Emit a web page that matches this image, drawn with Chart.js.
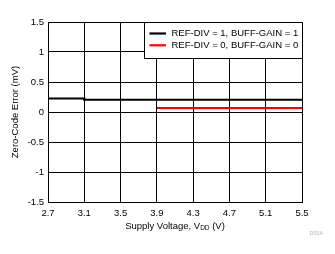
<!DOCTYPE html>
<html><head><meta charset="utf-8">
<script src="https://cdn.jsdelivr.net/npm/chart.js@4/dist/chart.umd.min.js"></script>
<style>html,body{margin:0;padding:0;background:#fff}canvas{display:block}</style>
</head><body>
<canvas id="c" width="335" height="254"></canvas>
<script>
// Data
const vddBlack = [2.7,2.8,2.9,3.0,3.1,3.1,3.2,3.3,3.4,3.5,3.6,3.7,3.8,3.9,4.0,4.1,4.2,4.3,4.4,4.5,4.6,4.7,4.8,4.9,5.0,5.1,5.2,5.3,5.4,5.5];
const errBlack = [0.225,0.225,0.225,0.225,0.225,0.204,0.204,0.204,0.204,0.204,0.204,0.204,0.204,0.204,0.204,0.204,0.204,0.204,0.204,0.204,0.204,0.204,0.204,0.204,0.204,0.204,0.204,0.204,0.204,0.204];
const vddRed = [3.9,4.0,4.1,4.2,4.3,4.4,4.5,4.6,4.7,4.8,4.9,5.0,5.1,5.2,5.3,5.4,5.5];
const errRed = [0.067,0.067,0.067,0.067,0.067,0.067,0.067,0.067,0.067,0.067,0.067,0.067,0.067,0.067,0.067,0.067,0.067];
const seriesLabels = ['REF-DIV = 1, BUFF-GAIN = 1', 'REF-DIV = 0, BUFF-GAIN = 0'];
const xTicks = [2.7,3.1,3.5,3.9,4.3,4.7,5.1,5.5];
const yTicks = [-1.5,-1,-0.5,0,0.5,1,1.5];
const yTitle = 'Zero-Code Error (mV)';
const xTitleParts = ['Supply Voltage, V', 'DD', ' (V)'];
const noteText = 'D014';

const FONT = "'Liberation Sans', Arial, sans-serif";
const toXY = (xs, ys) => xs.map((x, i) => ({x: x, y: ys[i]}));

const legendPlugin = {
  id: 'boxLegend',
  afterDatasetsDraw(chart) {
    const ctx = chart.ctx, ca = chart.chartArea;
    const right = Math.round(ca.right) + 0.5, top = Math.round(ca.top) + 0.5;
    const w = 158, h = 36;
    ctx.save();
    ctx.fillStyle = '#fff';
    ctx.fillRect(right - w, top, w, h);
    ctx.strokeStyle = '#000'; ctx.lineWidth = 1;
    ctx.strokeRect(right - w, top, w, h);
    ctx.font = '9.5px ' + FONT;
    ctx.textBaseline = 'middle';
    ctx.textAlign = 'left';
    chart.data.datasets.forEach((ds, i) => {
      const y = top + 11 + i * 11.8;
      ctx.strokeStyle = ds.borderColor; ctx.lineWidth = 2.2;
      ctx.beginPath(); ctx.moveTo(right - w + 5, y); ctx.lineTo(right - w + 21.5, y); ctx.stroke();
      ctx.fillStyle = '#000';
      ctx.fillText(ds.label, right - w + 27, y);
    });
    ctx.restore();
  }
};

const xTitlePlugin = {
  id: 'xTitle',
  afterDraw(chart) {
    const ctx = chart.ctx, ca = chart.chartArea;
    ctx.save();
    ctx.fillStyle = '#000';
    ctx.textBaseline = 'alphabetic';
    const big = '9.5px ' + FONT, small = '6.5px ' + FONT;
    ctx.font = big; const w0 = ctx.measureText(xTitleParts[0]).width, w2 = ctx.measureText(xTitleParts[2]).width;
    ctx.font = small; const w1 = ctx.measureText(xTitleParts[1]).width;
    let x = (ca.left + ca.right) / 2 - (w0 + w1 + w2) / 2;
    const base = 228.5;
    ctx.textAlign = 'left';
    ctx.font = big; ctx.fillText(xTitleParts[0], x, base); x += w0;
    ctx.font = small; ctx.fillText(xTitleParts[1], x, base + 1); x += w1;
    ctx.font = big; ctx.fillText(xTitleParts[2], x, base);
    ctx.font = '5.5px ' + FONT; ctx.fillStyle = '#b0b0b0'; ctx.textAlign = 'center';
    ctx.fillText(noteText, 316, 235);
    ctx.restore();
  }
};

new Chart(document.getElementById('c'), {
  type: 'line',
  data: {
    datasets: [
      {label: seriesLabels[0], data: toXY(vddBlack, errBlack), borderColor: '#000', borderWidth: 2.2, pointRadius: 0, tension: 0},
      {label: seriesLabels[1], data: toXY(vddRed, errRed), borderColor: '#ff0000', borderWidth: 2.2, pointRadius: 0, tension: 0}
    ]
  },
  options: {
    responsive: false, animation: false,
    layout: {padding: {left: 0, top: 22, right: 33, bottom: 0}},
    plugins: {legend: {display: false}, tooltip: {enabled: false}},
    scales: {
      x: {
        type: 'linear', min: 2.7, max: 5.5,
        afterBuildTicks: s => { s.ticks = xTicks.map(v => ({value: v})); },
        afterFit: s => { s.height = 52; },
        grid: {color: '#000', lineWidth: 1, drawTicks: false},
        border: {color: '#000', width: 1},
        ticks: {color: '#000', font: {size: 9.5, family: FONT}, padding: 6, maxRotation: 0, autoSkip: false,
                callback: v => Number(v).toFixed(1)},
        title: {display: false}
      },
      y: {
        type: 'linear', min: -1.5, max: 1.5,
        afterBuildTicks: s => { s.ticks = yTicks.map(v => ({value: v})); },
        afterFit: s => { s.width = 48; },
        grid: {color: '#000', lineWidth: 1, drawTicks: false},
        border: {color: '#000', width: 1},
        ticks: {color: '#000', font: {size: 9.5, family: FONT}, padding: 4, autoSkip: false,
                callback: v => String(v)},
        title: {display: true, text: yTitle, color: '#000', font: {size: 9.5, family: FONT}, padding: {top: 10, bottom: 0}}
      }
    }
  },
  plugins: [legendPlugin, xTitlePlugin]
});
</script>
</body></html>
